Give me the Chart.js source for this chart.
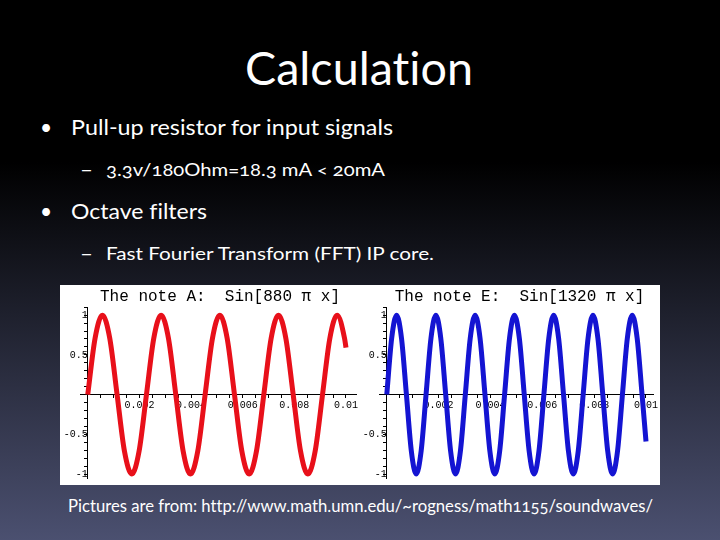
<!DOCTYPE html>
<html>
<head>
<meta charset="utf-8">
<script src="https://cdn.jsdelivr.net/npm/chart.js@4.4.1/dist/chart.umd.min.js"></script>
<style>
    html, body { margin: 0; padding: 0; }
    body {
        width: 720px; height: 540px; overflow: hidden; position: relative;
        background: linear-gradient(to bottom, #000 0%, #000 30%, #4b5070 100%);
        font-family: Lato, "Open Sans", sans-serif; color: #fff;
        font-variant-ligatures: none;
        font-variant-numeric: oldstyle-nums;
    }
    .t { position: absolute; white-space: nowrap; line-height: 1; transform-origin: 0 0; }
    #plots { position: absolute; left: 60px; top: 285px; width: 600px; height: 200px; background: #fff; }
    canvas { position: absolute; top: 0; }
</style>
</head>
<body>
<div class="t" id="title" style="font-size:46px; top:45px;" data-x="245" data-w="228">Calculation</div>
<div class="t" style="font-size:21px; top:116px; left:40px;">•</div>
<div class="t" style="font-size:21px; top:116px;" data-x="71" data-w="322">Pull-up resistor for input signals</div>
<div class="t" style="font-size:18px; top:160px;" data-x="80" data-w="13">–</div>
<div class="t" style="font-size:18px; top:160px;" data-x="106" data-w="279">3.3v/180Ohm=18.3 mA &lt; 20mA</div>
<div class="t" style="font-size:21px; top:200px; left:40px;">•</div>
<div class="t" style="font-size:21px; top:200px;" data-x="71" data-w="136">Octave filters</div>
<div class="t" style="font-size:18px; top:244px;" data-x="80" data-w="13">–</div>
<div class="t" style="font-size:18px; top:244px;" data-x="106" data-w="328">Fast Fourier Transform (FFT) IP core.</div>
<div class="t" style="font-size:18px; top:496px;" data-x="68" data-w="585">Pictures are from: http://www.math.umn.edu/~rogness/math1155/soundwaves/</div>

<div id="plots">
    <canvas id="noteA" width="300" height="200" style="left:0"></canvas>
    <canvas id="noteE" width="300" height="200" style="left:300px"></canvas>
</div>

<script>
// The note A: Sin[880 pi x], read at eighth-period steps off the picture
const noteAX = [0, 0.000284, 0.000568, 0.000852, 0.001136, 0.00142, 0.001705, 0.001989,
    0.002273, 0.002557, 0.002841, 0.003125, 0.003409, 0.003693, 0.003977, 0.004261,
    0.004545, 0.00483, 0.005114, 0.005398, 0.005682, 0.005966, 0.00625, 0.006534,
    0.006818, 0.007102, 0.007386, 0.00767, 0.007955, 0.008239, 0.008523, 0.008807,
    0.009091, 0.009375, 0.009659, 0.009943, 0.01];
const noteAY = [0, 0.71, 1, 0.71, 0, -0.71, -1, -0.71,
    0, 0.71, 1, 0.71, 0, -0.71, -1, -0.71,
    0, 0.71, 1, 0.71, 0, -0.71, -1, -0.71,
    0, 0.71, 1, 0.71, 0, -0.71, -1, -0.71,
    0, 0.71, 1, 0.71, 0.59];

// The note E: Sin[1320 pi x]
const noteEX = [0, 0.000189, 0.000379, 0.000568, 0.000758, 0.000947, 0.001136, 0.001326,
    0.001515, 0.001705, 0.001894, 0.002083, 0.002273, 0.002462, 0.002652, 0.002841,
    0.00303, 0.00322, 0.003409, 0.003598, 0.003788, 0.003977, 0.004167, 0.004356,
    0.004545, 0.004735, 0.004924, 0.005114, 0.005303, 0.005492, 0.005682, 0.005871,
    0.006061, 0.00625, 0.006439, 0.006629, 0.006818, 0.007008, 0.007197, 0.007386,
    0.007576, 0.007765, 0.007955, 0.008144, 0.008333, 0.008523, 0.008712, 0.008902,
    0.009091, 0.00928, 0.00947, 0.009659, 0.009848, 0.01];
const noteEY = [0, 0.71, 1, 0.71, 0, -0.71, -1, -0.71,
    0, 0.71, 1, 0.71, 0, -0.71, -1, -0.71,
    0, 0.71, 1, 0.71, 0, -0.71, -1, -0.71,
    0, 0.71, 1, 0.71, 0, -0.71, -1, -0.71,
    0, 0.71, 1, 0.71, 0, -0.71, -1, -0.71,
    0, 0.71, 1, 0.71, 0, -0.71, -1, -0.71,
    0, 0.71, 1, 0.71, 0, -0.59];

const xMajor = 0.002;
const yMajor = 0.5;

function isMultiple(v, step) {
    const r = v / step;
    return Math.abs(r - Math.round(r)) < 1e-6 && Math.abs(v) > 1e-9;
}

function plot(id, title, xs, ys, color, xMax, padLeft) {
    const mono = "'Liberation Mono', 'DejaVu Sans Mono', monospace";
    return new Chart(document.getElementById(id), {
        type: "line",
        data: {
            datasets: [{
                data: xs.map((x, i) => ({ x, y: ys[i] })),
                borderColor: color,
                borderWidth: 5,
                pointRadius: 0,
                cubicInterpolationMode: "monotone",
                borderCapStyle: "butt"
            }]
        },
        options: {
            responsive: false,
            animation: false,
            layout: { padding: { left: padLeft, right: 0, top: 0, bottom: 6 } },
            plugins: {
                legend: { display: false },
                tooltip: { enabled: false },
                title: {
                    display: true,
                    text: title,
                    color: "#000",
                    font: { family: mono, size: 16, weight: "normal" },
                    padding: { top: 2, bottom: 1 }
                }
            },
            scales: {
                x: {
                    type: "linear",
                    min: -0.0003,
                    max: xMax,
                    position: { y: 0 },
                    border: { color: "#000", width: 1 },
                    grid: { drawOnChartArea: false, tickLength: 3, color: "#000" },
                    ticks: {
                        stepSize: 0.0005,
                        includeBounds: false,
                        autoSkip: false,
                        maxRotation: 0,
                        padding: 2,
                        color: "#000",
                        font: { family: mono, size: 10 },
                        callback: v => isMultiple(v, xMajor) ? String(+v.toFixed(4)) : ""
                    }
                },
                y: {
                    type: "linear",
                    min: -1.05,
                    max: 1.1,
                    position: { x: 0 },
                    border: { color: "#000", width: 1 },
                    grid: { drawOnChartArea: false, tickLength: 3, color: "#000" },
                    ticks: {
                        stepSize: 0.1,
                        includeBounds: false,
                        autoSkip: false,
                        padding: 1,
                        color: "#000",
                        font: { family: mono, size: 10 },
                        callback: v => isMultiple(v, yMajor) ? String(+v.toFixed(2)) : ""
                    }
                }
            }
        }
    });
}

plot("noteA", "The note A:  Sin[880 \u03c0 x]", noteAX, noteAY, "#e8101a", 0.0104, 20);
plot("noteE", "The note E:  Sin[1320 \u03c0 x]", noteEX, noteEY, "#1414d2", 0.0103, 19);

// fit slide text to the widths seen in the picture
document.querySelectorAll(".t[data-w]").forEach(el => {
    const w = el.getBoundingClientRect().width;
    el.style.left = el.dataset.x + "px";
    el.style.transform = "scaleX(" + (el.dataset.w / w) + ")";
});
</script>
</body>
</html>
